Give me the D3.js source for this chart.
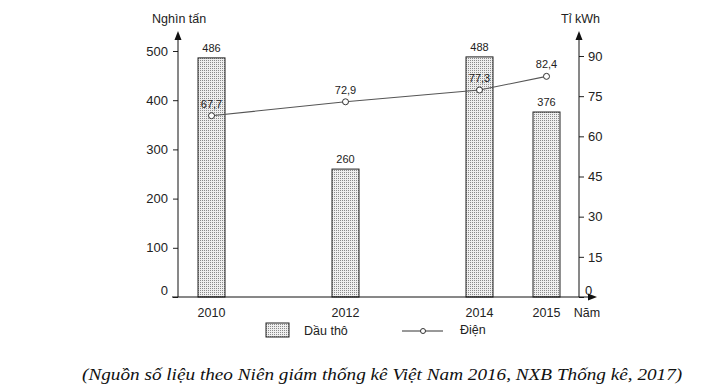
<!DOCTYPE html>
<html><head><meta charset="utf-8">
<script src="https://cdn.jsdelivr.net/npm/d3@7"></script>
<style>body{margin:0;background:#fff}</style>
</head><body>
<svg id="c" width="724" height="391"></svg>
<script>
const years = [2010, 2012, 2014, 2015];
const dauTho = [486, 260, 488, 376];
const dien = [67.7, 72.9, 77.3, 82.4];
const leftTicks = [0, 100, 200, 300, 400, 500];
const rightTicks = [0, 15, 30, 45, 60, 75, 90];
const fmt = v => String(v).replace('.', ',');

const svg = d3.select('#c');
const font = 'Liberation Sans, Arial, sans-serif';
const defs = svg.append('defs');
const pat = defs.append('pattern').attr('id','dots').attr('patternUnits','userSpaceOnUse')
  .attr('width',2).attr('height',2);
pat.append('rect').attr('width',2).attr('height',2).attr('fill','#efefef');
pat.append('rect').attr('width',1).attr('height',1).attr('fill','#8a8a8a');

const x = d3.scaleLinear().domain([2010, 2015]).range([211.5, 546.5]);
const yL = d3.scaleLinear().domain([0, 500]).range([297, 51]);
const yR = d3.scaleLinear().domain([0, 90]).range([297, 56]);
const bw = 27;

// bars
svg.selectAll('rect.bar').data(years).join('rect').attr('class','bar')
  .attr('x', (d)=>x(d)-bw/2).attr('width', bw)
  .attr('y', (d,i)=>yL(dauTho[i])).attr('height',(d,i)=>yL(0)-yL(dauTho[i]))
  .attr('fill','url(#dots)').attr('stroke','#222').attr('stroke-width',1);
svg.selectAll('text.bl').data(years).join('text').attr('class','bl')
  .attr('x', d=>x(d)).attr('y',(d,i)=>yL(dauTho[i])-6)
  .attr('text-anchor','middle').attr('font-family',font).attr('font-size',11).attr('fill','#222')
  .text((d,i)=>dauTho[i]);

// left axis
const lAx = svg.append('g').attr('transform','translate(178,0)')
  .call(d3.axisLeft(yL).tickValues(leftTicks).tickSize(5).tickPadding(5).tickFormat(d=>d));
lAx.select('.domain').remove();
lAx.selectAll('line').attr('stroke','#222');
lAx.selectAll('text').attr('font-family',font).attr('font-size',13).attr('fill','#222');
lAx.selectAll('.tick').filter(d=>d===0).select('text').attr('dy','-0.2em');
svg.append('line').attr('x1',178).attr('x2',178).attr('y1',297).attr('y2',36).attr('stroke','#111');
svg.append('path').attr('d','M178,31 L174.5,40 L181.5,40 Z').attr('fill','#111');

// right axis
const rAx = svg.append('g').attr('transform','translate(579,0)')
  .call(d3.axisRight(yR).tickValues(rightTicks).tickSize(5).tickPadding(4).tickFormat(d=>d));
rAx.select('.domain').remove();
rAx.selectAll('line').attr('stroke','#222');
rAx.selectAll('text').attr('font-family',font).attr('font-size',13).attr('fill','#222');
rAx.selectAll('.tick').filter(d=>d===0).select('text').attr('dy','-0.2em').attr('x',6);
svg.append('line').attr('x1',579).attr('x2',579).attr('y1',297).attr('y2',36).attr('stroke','#111');
svg.append('path').attr('d','M579,31 L575.5,40 L582.5,40 Z').attr('fill','#111');

// x axis
svg.append('line').attr('x1',172).attr('x2',590).attr('y1',297).attr('y2',297).attr('stroke','#111');
svg.append('path').attr('d','M597,297 L588,293.5 L588,300.5 Z').attr('fill','#111');
svg.selectAll('text.xl').data(years).join('text').attr('class','xl')
  .attr('x', d=>x(d)).attr('y', 317).attr('text-anchor','middle')
  .attr('font-family',font).attr('font-size',12.5).attr('fill','#222').text(d=>d);
svg.append('text').attr('x',587).attr('y',317).attr('text-anchor','middle')
  .attr('font-family',font).attr('font-size',12.5).attr('fill','#222').text('Năm');

// axis titles
svg.append('text').attr('x',152).attr('y',23).attr('font-family',font).attr('font-size',12.5).attr('fill','#222').text('Nghìn tấn');
svg.append('text').attr('x',561).attr('y',23).attr('font-family',font).attr('font-size',12.5).attr('fill','#222').text('Tỉ kWh');

// line
const line = d3.line().x((d,i)=>x(years[i])).y(d=>yR(d));
svg.append('path').datum(dien).attr('d',line).attr('fill','none').attr('stroke','#555').attr('stroke-width',1.1);
svg.selectAll('circle.pt').data(dien).join('circle').attr('class','pt')
  .attr('cx',(d,i)=>x(years[i])).attr('cy',d=>yR(d)).attr('r',3)
  .attr('fill','#fff').attr('stroke','#333').attr('stroke-width',1);
svg.selectAll('text.pl').data(dien).join('text').attr('class','pl')
  .attr('x',(d,i)=>x(years[i])).attr('y',d=>yR(d)-8).attr('text-anchor','middle')
  .attr('font-family',font).attr('font-size',11).attr('fill','#222').text(d=>fmt(d));

// legend
svg.append('rect').attr('x',266).attr('y',323).attr('width',23).attr('height',14)
  .attr('fill','url(#dots)').attr('stroke','#222');
svg.append('text').attr('x',304).attr('y',335).attr('font-family',font).attr('font-size',12.5).attr('fill','#222').text('Dầu thô');
svg.append('line').attr('x1',402).attr('x2',443).attr('y1',331).attr('y2',331).attr('stroke','#333');
svg.append('circle').attr('cx',423).attr('cy',331).attr('r',2.5).attr('fill','#fff').attr('stroke','#333');
svg.append('text').attr('x',460).attr('y',334).attr('font-family',font).attr('font-size',12.5).attr('fill','#222').text('Điện');

// caption (horizontally stretched like the reference)
const cap = svg.append('text').attr('x',0).attr('y',0)
  .attr('font-family','Liberation Serif, Times New Roman, serif').attr('font-style','italic')
  .attr('font-size',17).attr('fill','#111')
  .text('(Nguồn số liệu theo Niên giám thống kê Việt Nam 2016, NXB Thống kê, 2017)');
const w = cap.node().getComputedTextLength();
cap.attr('transform', `translate(82,380) scale(${601 / w},1)`);
</script>
</body></html>
